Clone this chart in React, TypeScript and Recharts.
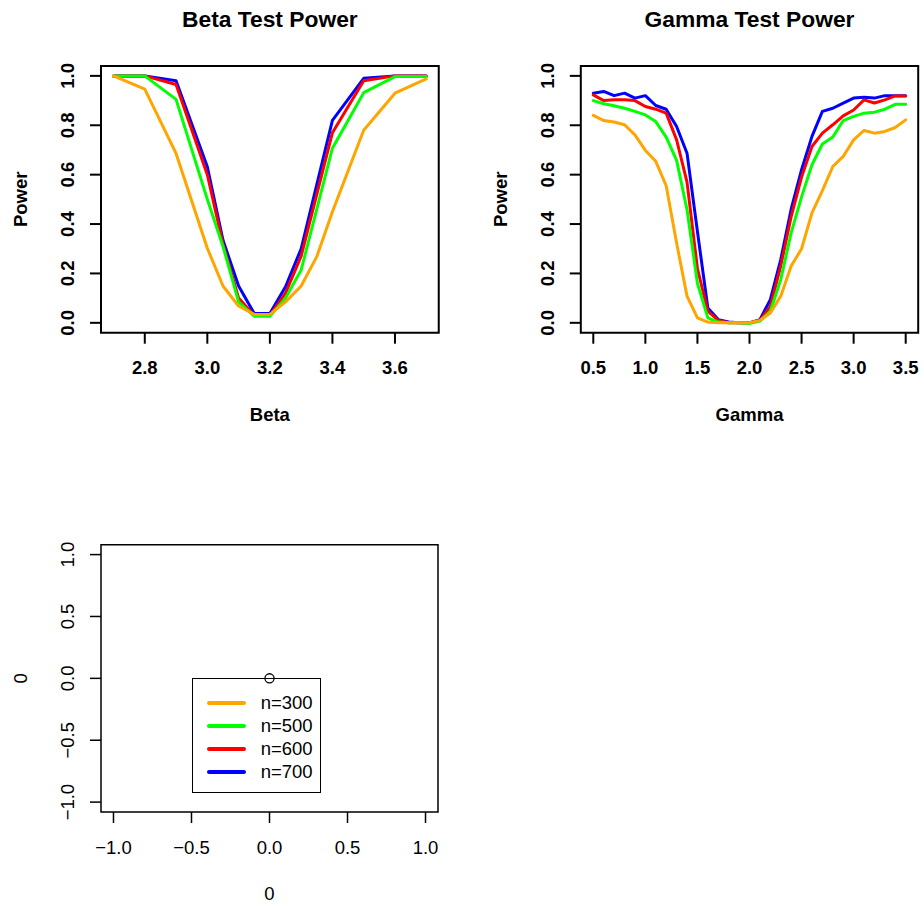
import {
  LineChart,
  Line,
  ScatterChart,
  Scatter,
  XAxis,
  YAxis,
  ReferenceArea,
  Label,
  Legend,
} from "recharts";

// beta grid and power per sample size
const betaX = [2.7, 2.8, 2.9, 3.0, 3.05, 3.1, 3.15, 3.2, 3.25, 3.3, 3.35, 3.4, 3.5, 3.6, 3.7];
const betaN300 = [1.0, 0.946, 0.686, 0.302, 0.149, 0.068, 0.034, 0.034, 0.085, 0.149, 0.268, 0.45, 0.78, 0.93, 0.988];
const betaN500 = [1.0, 1.0, 0.905, 0.5, 0.31, 0.085, 0.027, 0.027, 0.1, 0.214, 0.46, 0.707, 0.932, 0.997, 0.997];
const betaN600 = [1.0, 1.0, 0.965, 0.6, 0.32, 0.1, 0.03, 0.03, 0.12, 0.27, 0.52, 0.77, 0.98, 1.0, 1.0];
const betaN700 = [1.0, 1.0, 0.98, 0.632, 0.335, 0.149, 0.038, 0.038, 0.146, 0.3, 0.56, 0.82, 0.99, 1.0, 1.0];

// gamma grid and power per sample size
const gammaX = [
  0.5, 0.6, 0.7, 0.8, 0.9, 1.0, 1.1, 1.2, 1.3, 1.4, 1.5, 1.6, 1.7, 1.8, 1.9, 2.0,
  2.1, 2.2, 2.3, 2.4, 2.5, 2.6, 2.7, 2.8, 2.9, 3.0, 3.1, 3.2, 3.3, 3.4, 3.5,
];
const gammaN300 = [
  0.84, 0.819, 0.813, 0.802, 0.761, 0.698, 0.654, 0.555, 0.323, 0.108, 0.02, 0.003, 0, 0, 0, 0,
  0.01, 0.04, 0.108, 0.23, 0.3, 0.445, 0.535, 0.633, 0.674, 0.741, 0.779, 0.768, 0.775, 0.791, 0.822,
];
const gammaN500 = [
  0.9, 0.887, 0.879, 0.869, 0.856, 0.842, 0.815, 0.752, 0.658, 0.458, 0.16, 0.02, 0.003, 0, 0, -0.003,
  0.007, 0.047, 0.175, 0.364, 0.51, 0.64, 0.724, 0.752, 0.819, 0.836, 0.849, 0.853, 0.865, 0.885, 0.885,
];
const gammaN600 = [
  0.923, 0.9, 0.903, 0.903, 0.9, 0.876, 0.865, 0.849, 0.741, 0.57, 0.22, 0.047, 0.01, 0, 0, 0,
  0.01, 0.067, 0.23, 0.43, 0.59, 0.714, 0.768, 0.802, 0.838, 0.862, 0.903, 0.89, 0.903, 0.919, 0.919,
];
const gammaN700 = [
  0.93, 0.937, 0.92, 0.93, 0.91, 0.92, 0.88, 0.865, 0.795, 0.687, 0.37, 0.06, 0.013, 0.003, 0, 0,
  0.013, 0.094, 0.256, 0.46, 0.62, 0.755, 0.856, 0.869, 0.89, 0.91, 0.913, 0.91, 0.92, 0.92, 0.92,
];

const seriesKeys = ["n300", "n500", "n600", "n700"];
const seriesNames = ["n=300", "n=500", "n=600", "n=700"];
const seriesColors = ["#FFA500", "#00FF00", "#FF0000", "#0000FF"];

const betaTicks = [2.8, 3.0, 3.2, 3.4, 3.6];
const gammaTicks = [0.5, 1.0, 1.5, 2.0, 2.5, 3.0, 3.5];
const powerTicks = [0, 0.2, 0.4, 0.6, 0.8, 1.0];
const unitTicks = [-1, -0.5, 0, 0.5, 1];

const betaData = betaX.map((x, i) => ({
  x,
  n300: betaN300[i],
  n500: betaN500[i],
  n600: betaN600[i],
  n700: betaN700[i],
}));

const gammaData = gammaX.map((x, i) => ({
  x,
  n300: gammaN300[i],
  n500: gammaN500[i],
  n600: gammaN600[i],
  n700: gammaN700[i],
}));

const originPoint = [{ x: 0, y: 0 }];

const FONT = '"Liberation Sans", Arial, Helvetica, sans-serif';
const FS = 18.5;

const fmt = (v: number) => (v < 0 ? "\u2212" + Math.abs(v).toFixed(1) : v.toFixed(1));

const padDomain = (lo: number, hi: number) => {
  const d = (hi - lo) * 0.04;
  return [lo - d, hi + d];
};

const makeXTick = (bold: boolean) => (props: any) => {
  const { x, y, payload } = props;
  return (
    <text
      x={x}
      y={y + 24}
      textAnchor="middle"
      dominantBaseline="central"
      fontFamily={FONT}
      fontSize={FS}
      fontWeight={bold ? "bold" : "normal"}
      fill="#000"
    >
      {fmt(payload.value)}
    </text>
  );
};

const makeYTick = (bold: boolean) => (props: any) => {
  const { x, y, payload } = props;
  const cx = x - 22;
  return (
    <text
      x={cx}
      y={y}
      transform={`rotate(-90 ${cx} ${y})`}
      textAnchor="middle"
      dominantBaseline="central"
      fontFamily={FONT}
      fontSize={FS}
      fontWeight={bold ? "bold" : "normal"}
      fill="#000"
    >
      {fmt(payload.value)}
    </text>
  );
};

const xTitle = (text: string, bold: boolean) => (props: any) => {
  const vb = props.viewBox;
  return (
    <text
      x={vb.x + vb.width / 2}
      y={vb.y + 81.3}
      textAnchor="middle"
      dominantBaseline="central"
      fontFamily={FONT}
      fontSize={FS}
      fontWeight={bold ? "bold" : "normal"}
      fill="#000"
    >
      {text}
    </text>
  );
};

const yTitle = (text: string, bold: boolean) => (props: any) => {
  const vb = props.viewBox;
  const cx = vb.x + vb.width - 80;
  const cy = vb.y + vb.height / 2;
  return (
    <text
      x={cx}
      y={cy}
      transform={`rotate(-90 ${cx} ${cy})`}
      textAnchor="middle"
      dominantBaseline="central"
      fontFamily={FONT}
      fontSize={FS}
      fontWeight={bold ? "bold" : "normal"}
      fill="#000"
    >
      {text}
    </text>
  );
};

const mainTitle = (text: string) => (props: any) => {
  const vb = props.viewBox;
  return (
    <text
      x={vb.x + vb.width / 2}
      y={vb.y - 47}
      textAnchor="middle"
      dominantBaseline="central"
      fontFamily={FONT}
      fontSize={22.8}
      fontWeight="bold"
      fill="#000"
    >
      {text}
    </text>
  );
};

const PowerPanel = ({
  data,
  xDomain,
  xTicks,
  title,
  xLabel,
  yAxisWidth,
  rightMargin,
}: any) => {
  const yDomain = padDomain(0, 1);
  // draw order in the original: n=700 first, n=300 last
  const order = [3, 2, 1, 0];
  return (
    <LineChart
      width={462}
      height={453}
      data={data}
      margin={{ top: 66, right: rightMargin, bottom: 70.3, left: 0 }}
    >
      <XAxis
        type="number"
        dataKey="x"
        domain={xDomain}
        ticks={xTicks}
        interval={0}
        allowDataOverflow
        axisLine={false}
        tickLine={{ stroke: "#000", strokeWidth: 2 }}
        tickSize={11}
        tickMargin={0}
        height={50}
        tick={makeXTick(true)}
      >
        <Label content={xTitle(xLabel, true)} />
      </XAxis>
      <YAxis
        type="number"
        domain={yDomain}
        ticks={powerTicks}
        interval={0}
        allowDataOverflow
        axisLine={false}
        tickLine={{ stroke: "#000", strokeWidth: 2 }}
        tickSize={11}
        tickMargin={0}
        width={yAxisWidth}
        tick={makeYTick(true)}
      >
        <Label content={yTitle("Power", true)} />
      </YAxis>
      {order.map((i) => (
        <Line
          key={seriesKeys[i]}
          type="linear"
          dataKey={seriesKeys[i]}
          name={seriesNames[i]}
          stroke={seriesColors[i]}
          strokeWidth={3}
          strokeLinejoin="round"
          strokeLinecap="round"
          dot={false}
          activeDot={false}
          isAnimationActive={false}
        />
      ))}
      <ReferenceArea
        x1={xDomain[0]}
        x2={xDomain[1]}
        y1={yDomain[0]}
        y2={yDomain[1]}
        fill="none"
        fillOpacity={0}
        stroke="#000"
        strokeWidth={2}
        ifOverflow="visible"
      >
        <Label content={mainTitle(title)} />
      </ReferenceArea>
    </LineChart>
  );
};

const LegendBox = () => (
  <div
    style={{
      width: 129.6,
      height: 115,
      boxSizing: "border-box",
      border: "1.5px solid #000",
      background: "transparent",
      position: "relative",
      fontFamily: FONT,
      fontSize: FS,
      color: "#000",
    }}
  >
    {seriesNames.map((name, i) => (
      <div key={name}>
        <div
          style={{
            position: "absolute",
            left: 14,
            top: 23.4 + i * 23 - 2,
            width: 39,
            height: 4.5,
            borderRadius: 2.5,
            background: seriesColors[i],
          }}
        />
        <div
          style={{
            position: "absolute",
            left: 68,
            top: 23.4 + i * 23 - 11,
            height: 22,
            lineHeight: "22px",
            whiteSpace: "nowrap",
          }}
        >
          {name}
        </div>
      </div>
    ))}
  </div>
);

const EmptyPanel = () => {
  const dom = padDomain(-1, 1);
  return (
    <ScatterChart width={462} height={454} margin={{ top: 91.7, right: 24, bottom: 45, left: 0 }}>
      <XAxis
        type="number"
        dataKey="x"
        domain={dom}
        ticks={unitTicks}
        interval={0}
        allowDataOverflow
        axisLine={false}
        tickLine={{ stroke: "#000", strokeWidth: 1.5 }}
        tickSize={11}
        tickMargin={0}
        height={50}
        tick={makeXTick(false)}
      >
        <Label content={xTitle("0", false)} />
      </XAxis>
      <YAxis
        type="number"
        dataKey="y"
        domain={dom}
        ticks={unitTicks}
        interval={0}
        allowDataOverflow
        axisLine={false}
        tickLine={{ stroke: "#000", strokeWidth: 1.5 }}
        tickSize={11}
        tickMargin={0}
        width={101}
        tick={makeYTick(false)}
      >
        <Label content={yTitle("0", false)} />
      </YAxis>
      <ReferenceArea
        x1={dom[0]}
        x2={dom[1]}
        y1={dom[0]}
        y2={dom[1]}
        fill="none"
        fillOpacity={0}
        stroke="#000"
        strokeWidth={1.5}
        ifOverflow="visible"
      />
      <Legend
        layout="horizontal"
        verticalAlign="middle"
        align="center"
        wrapperStyle={{ left: 191.7, top: 225.3, width: 129.6, height: 115 }}
        content={() => <LegendBox />}
      />
      <Scatter
        data={originPoint}
        isAnimationActive={false}
        shape={(p: any) => (
          <circle cx={p.cx} cy={p.cy} r={4.6} fill="none" stroke="#000" strokeWidth={1.3} />
        )}
      />
    </ScatterChart>
  );
};

export default function App() {
  return (
    <div
      style={{
        position: "absolute",
        left: 0,
        top: 0,
        width: 924,
        height: 907,
        background: "#fff",
        overflow: "hidden",
      }}
    >
      <div style={{ position: "absolute", left: 0, top: 0 }}>
        <PowerPanel
          data={betaData}
          xDomain={padDomain(2.7, 3.7)}
          xTicks={betaTicks}
          title="Beta Test Power"
          xLabel="Beta"
          yAxisWidth={101}
          rightMargin={23.25}
        />
      </div>
      <div style={{ position: "absolute", left: 462, top: 0 }}>
        <PowerPanel
          data={gammaData}
          xDomain={padDomain(0.5, 3.5)}
          xTicks={gammaTicks}
          title="Gamma Test Power"
          xLabel="Gamma"
          yAxisWidth={118.8}
          rightMargin={5.8}
        />
      </div>
      <div style={{ position: "absolute", left: 0, top: 453 }}>
        <EmptyPanel />
      </div>
    </div>
  );
}
